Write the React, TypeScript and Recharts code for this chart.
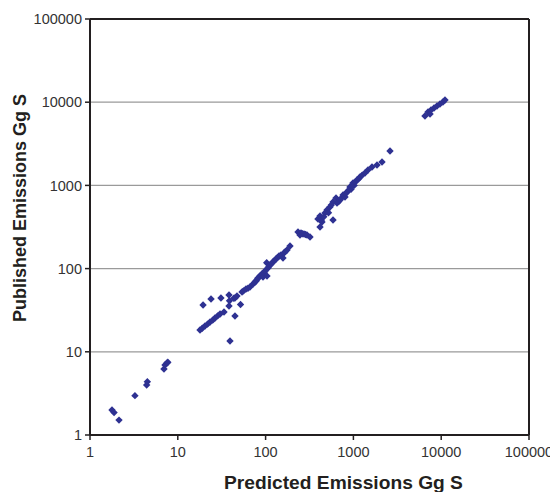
import React from 'react';
import { ScatterChart, Scatter, XAxis, YAxis, CartesianGrid, ReferenceLine } from 'recharts';

const predicted: number[] = [
  1.78, 1.88, 2.14, 3.25, 4.42, 4.5, 6.96, 7.15, 7.53, 7.7,
  19.4, 23.9, 31.0, 38.3, 38.3, 38.8, 51.8, 44.8, 39.3,
  17.9, 19.0, 20.4, 21.8, 23.3, 25.0, 26.5, 28.4, 30.3, 33.6, 44.8, 43.5,
  47.2, 53.9, 56, 59.8, 63, 66.4, 71.9, 75, 77.8, 80, 81.9, 86.3, 89, 91.0, 93.4, 96, 98.4, 103.7, 106.5, 102.9,
  109, 112.2, 117, 121.4, 126, 131.3, 137, 142.1, 149.7, 157.8, 162.1, 168, 175.4, 189.7,
  233.9, 246.6, 253, 263, 273.7, 285, 296.3, 320.5,
  395, 416.8, 438.8, 416.8, 430, 475.1, 460, 500.3, 520, 541, 586, 586, 560, 650.6, 634, 680, 703.8, 730,
  761.6, 802, 820, 845, 891, 914, 940, 964, 989, 1020, 1050, 1099, 1150, 1189, 1260, 1355, 1466, 1629, 1858, 2118, 2612,
  6535, 7079, 7462, 7656, 8283, 8955, 9684, 10475, 11043,
];

const published: number[] = [
  2.0, 1.86, 1.51, 2.97, 3.99, 4.37, 6.21, 6.94, 7.33, 7.5,
  36.5, 43.1, 44.3, 48.2, 35.5, 41.0, 37.0, 26.9, 13.5,
  18.3, 19.2, 20.4, 21.5, 22.8, 24.0, 25.5, 27.0, 28.5, 30.1, 44.3, 44.0,
  46.9, 52.3, 54, 56.9, 58, 60.1, 65.3, 68, 71.0, 74, 77.1, 81.5, 84, 86.1, 79.2, 90, 93.6, 81.5, 101.7, 117.8,
  106, 110.5, 115, 120, 125, 130.4, 136, 141.6, 145.7, 134, 154.1, 160, 167.4, 187,
  275.4, 253.5, 267.9, 262, 260.7, 257, 253.5, 239.9,
  394.6, 316, 363, 428.8, 380, 466, 420, 506, 470, 550, 384, 631, 580, 614, 706, 640, 668, 700,
  767, 726, 800, 833, 880, 957, 900, 984, 1069, 1000, 1100, 1161, 1200, 1262, 1330, 1409, 1531, 1664, 1758, 1910, 2590,
  6824, 7621, 7217, 8054, 8511, 8995, 9509, 10050, 10626,
];

const logTicks: number[] = [1, 10, 100, 1000, 10000, 100000];

const xTitle = 'Predicted Emissions Gg S';
const yTitle = 'Published Emissions Gg S';

const points = predicted.map((x, i) => ({ x, y: published[i] }));

const FONT = 'Liberation Sans, Arial, Helvetica, sans-serif';

const Diamond = (props: any) => {
  const { cx, cy } = props;
  if (cx == null || cy == null) return null;
  const h = 3.7;
  return (
    <path
      d={`M${cx},${cy - h}L${cx + h},${cy}L${cx},${cy + h}L${cx - h},${cy}Z`}
      fill="#2E3192"
    />
  );
};

export default function App() {
  return (
    <div style={{ width: 550, height: 484 }}>
      <style>{`svg.recharts-surface{overflow:visible}`}</style>
      <ScatterChart width={550} height={484} margin={{ top: 11, right: 29, left: 0, bottom: 0 }}>
        <CartesianGrid horizontal vertical={false} stroke="#9a9a9a" strokeWidth={1.2} />
        <XAxis
          type="number"
          dataKey="x"
          scale="log"
          domain={[1, 100000]}
          ticks={logTicks}
          allowDataOverflow
          height={57}
          tickSize={5}
          tickMargin={7}
          tickFormatter={(v: number) => String(v)}
          axisLine={{ stroke: '#231f20', strokeWidth: 2 }}
          tickLine={{ stroke: '#231f20', strokeWidth: 1.5 }}
          tick={{ fontSize: 14.5, fill: '#333', fontFamily: FONT }}
          label={{
            content: () => (
              <text x={335.5} y={481} textAnchor="middle" fontSize={19.2} fontWeight="bold" fill="#231f20" fontFamily={FONT}>
                {xTitle}
              </text>
            ),
          }}
        />
        <YAxis
          type="number"
          dataKey="y"
          scale="log"
          domain={[1, 100000]}
          ticks={logTicks}
          allowDataOverflow
          width={82}
          tickSize={5}
          tickMargin={3}
          tickFormatter={(v: number) => String(v)}
          axisLine={{ stroke: '#231f20', strokeWidth: 2 }}
          tickLine={{ stroke: '#231f20', strokeWidth: 1.5 }}
          tick={{ fontSize: 14.5, fill: '#333', fontFamily: FONT }}
          label={{
            content: () => (
              <text
                x={18}
                y={200}
                transform="rotate(-90, 18, 200)"
                textAnchor="middle"
                fontSize={18}
                fontWeight="bold"
                fill="#231f20"
                fontFamily={FONT}
              >
                {yTitle}
              </text>
            ),
          }}
        />
        <ReferenceLine y={100000} stroke="#231f20" strokeWidth={2} />
        <ReferenceLine x={100000} stroke="#231f20" strokeWidth={2} />
        <Scatter data={points} shape={Diamond} isAnimationActive={false} />
      </ScatterChart>
    </div>
  );
}
